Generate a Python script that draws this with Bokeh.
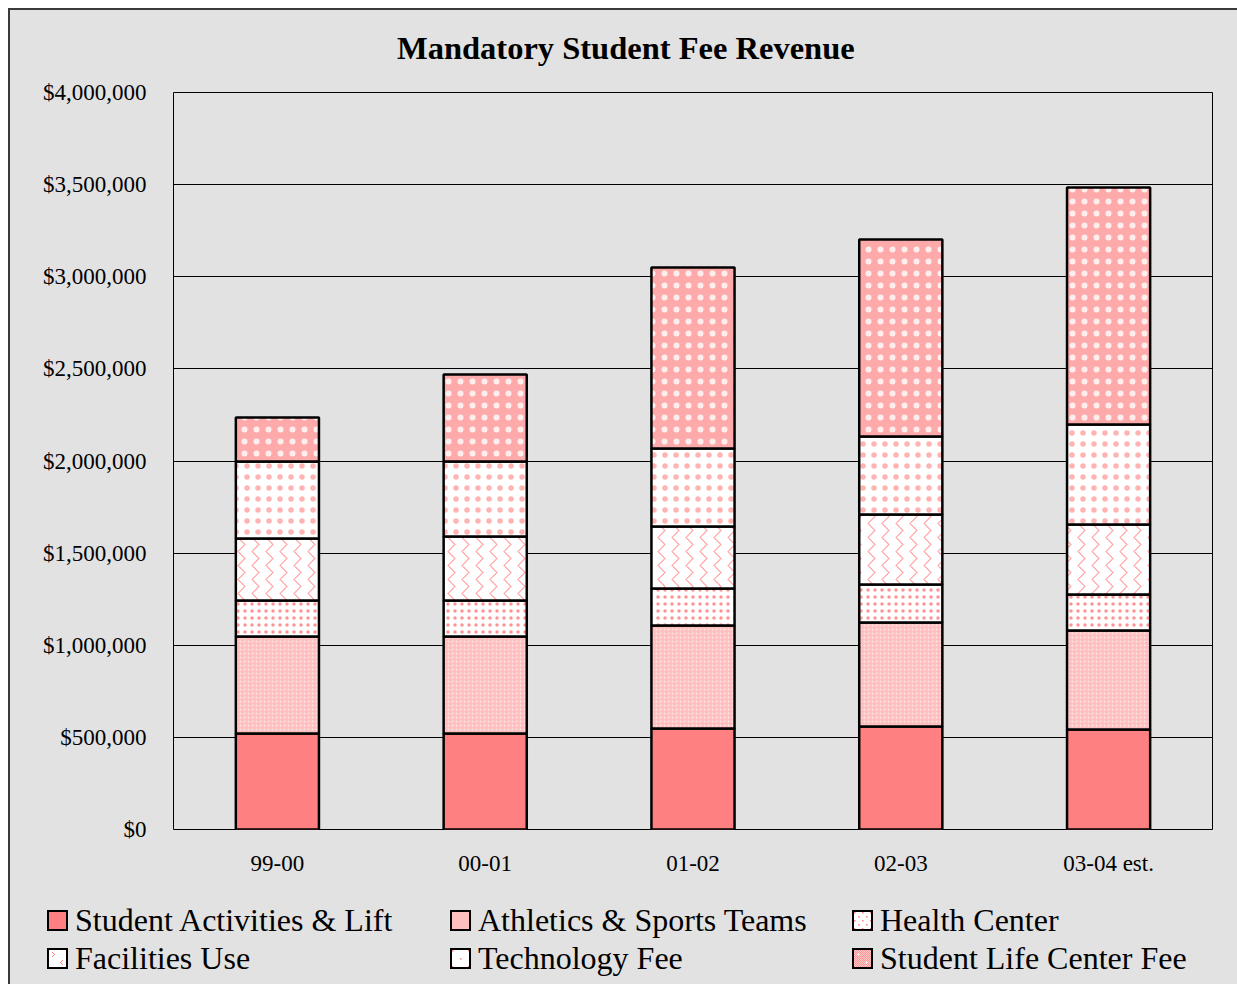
import base64, struct, zlib, html
from bokeh.plotting import figure
from bokeh.layouts import column
from bokeh.models import Range1d, SingleIntervalTicker, NumeralTickFormatter, Div
from bokeh.embed import file_html
from bokeh.resources import INLINE

chart_title = "Mandatory Student Fee Revenue"
years = ["99-00", "00-01", "01-02", "02-03", "03-04 est."]
series_names = ["Student Activities & Lift", "Athletics & Sports Teams", "Health Center",
                "Facilities Use", "Technology Fee", "Student Life Center Fee"]
student_activities = [521000, 521000, 548000, 559000, 543000]
athletics = [526000, 526000, 559000, 564000, 537000]
health_center = [196000, 196000, 201000, 207000, 195000]
facilities_use = [336000, 347000, 337000, 380000, 380000]
technology_fee = [418000, 407000, 423000, 423000, 543000]
student_life_center = [239000, 473000, 982000, 1069000, 1286000]

keys = ["sa", "ath", "hc", "fu", "tf", "slc"]
data = dict(years=years, sa=student_activities, ath=athletics, hc=health_center,
            fu=facilities_use, tf=technology_fee, slc=student_life_center)

# ---- bar fill styles (Bokeh built-in hatches) ----
fills = ["#ff8080", "#ffbfbf", "#ffffff", "#ffffff", "#ffffff", "#ffaaaa"]
hatch_patterns = [None, "dot", "dot", "vertical_wave", "dot", "dot"]
hatch_colors = ["black", "#ffe6e6", "#ff8080", "#ff9999", "#ff8080", "#ffffff"]
hatch_scales = [12, 4, 7, 14, 11, 12]
hatch_weights = [1, 1, 1, 1.1, 1, 1]
hatch_alphas = [1, 1, 0.85, 0.9, 0.6, 0.8]

# ---- small tiles for the HTML legend swatches ----
P = (255, 128, 128); W = (255, 255, 255); LP = (255, 200, 200)

def tile(n, base):
    return [[base(x, y) for x in range(n)] for y in range(n)]

hc_t = tile(8, lambda x, y: W)
for ox, oy in [(0, 0), (4, 4)]:
    hc_t[oy][ox] = P; hc_t[oy][ox + 1] = LP; hc_t[oy + 1][ox] = LP; hc_t[oy + 1][ox + 1] = LP
fu_t = tile(16, lambda x, y: W)
for (dx, dy) in [(0, 0), (1, 1), (2, 2), (1, 3), (0, 4)]:
    fu_t[2 + dy][3 + dx] = P
for (dx, dy) in [(2, 0), (1, 1), (0, 2), (1, 3), (2, 4)]:
    fu_t[10 + dy][11 + dx] = P
tf_t = tile(16, lambda x, y: W)
for ox, oy in [(0, 0), (8, 8)]:
    tf_t[oy][ox] = P; tf_t[oy][ox + 1] = LP; tf_t[oy + 1][ox] = LP; tf_t[oy + 1][ox + 1] = LP
slc_t = tile(16, lambda x, y: (255, 150, 150) if (x + y) % 2 == 0 else (255, 200, 200))
for cx, cy in [(4, 4), (12, 12)]:
    slc_t[cy][cx] = W
    for dx, dy in [(1, 0), (-1, 0), (0, 1), (0, -1)]:
        slc_t[cy + dy][cx + dx] = (255, 238, 238)
tiles = {"hc": hc_t, "fu": fu_t, "tf": tf_t, "slc": slc_t}


def png_url(grid):
    h = len(grid); w = len(grid[0])
    raw = b"".join(b"\x00" + bytes([c for px in row for c in px]) for row in grid)
    def chunk(tag, d):
        return struct.pack(">I", len(d)) + tag + d + struct.pack(">I", zlib.crc32(tag + d) & 0xffffffff)
    png = (b"\x89PNG\r\n\x1a\n" + chunk(b"IHDR", struct.pack(">IIBBBBB", w, h, 8, 2, 0, 0, 0))
           + chunk(b"IDAT", zlib.compress(raw)) + chunk(b"IEND", b""))
    return "data:image/png;base64," + base64.b64encode(png).decode()


SERIF = "Liberation Serif"
BG = "#e2e2e2"

# ---- title strip (HTML) ----
title_html = ('<div style="position:relative;width:1227px;height:65px;background:%s;">'
              '<div style="position:absolute;left:387px;top:18px;height:40px;line-height:40px;'
              "white-space:nowrap;font-family:'Liberation Serif';font-size:32.5px;"
              'font-weight:bold;color:#000;">%s</div></div>' % (BG, html.escape(chart_title)))
title_div = Div(text=title_html, width=1227, height=65,
                styles={"background-color": BG, "margin": "0", "padding": "0"})

# ---- main chart ----
p = figure(x_range=years, y_range=Range1d(0, 4000000),
           frame_width=1039, frame_height=737,
           min_border_left=163, min_border_right=25, min_border_top=17, min_border_bottom=61,
           output_backend="svg", toolbar_location=None)
p.background_fill_color = BG
p.border_fill_color = BG
p.outline_line_color = "black"
p.outline_line_width = 1
p.x_range.range_padding = 0

p.xgrid.grid_line_color = None
p.ygrid.grid_line_color = "black"
p.ygrid.grid_line_width = 1

p.yaxis.ticker = SingleIntervalTicker(interval=500000)
p.yaxis.formatter = NumeralTickFormatter(format="$0,0")
for ax in (p.xaxis[0], p.yaxis[0]):
    ax.axis_line_color = None
    ax.major_tick_line_color = None
    ax.minor_tick_line_color = None
    ax.major_tick_out = 0
    ax.major_tick_in = 0
    ax.major_label_text_font = SERIF
    ax.major_label_text_font_size = "23px"
    ax.major_label_text_color = "black"
p.yaxis.major_label_standoff = 23
p.xaxis.major_label_standoff = 21

p.vbar_stack(keys, x="years", width=0.4, source=data,
             line_color="black", line_width=2.5,
             fill_color=fills, hatch_pattern=hatch_patterns, hatch_color=hatch_colors,
             hatch_scale=hatch_scales, hatch_weight=hatch_weights, hatch_alpha=hatch_alphas)

# ---- legend strip (HTML) ----
col_left = [37, 440, 842]
row_mid = [30, 68]
parts = []
for i, (name, key, fc) in enumerate(zip(series_names, keys, fills)):
    gx = col_left[i % 3]
    cy = row_mid[i // 3]
    bg_img = "" if key not in tiles else " url(%s) repeat" % png_url(tiles[key])
    parts.append(
        '<div style="position:absolute;left:%dpx;top:%dpx;width:21px;height:21px;'
        'box-sizing:border-box;border:2.5px solid #000;background:%s%s;"></div>'
        % (gx, cy - 10, fc, bg_img))
    parts.append(
        '<div style="position:absolute;left:%dpx;top:%dpx;height:38px;line-height:38px;'
        'white-space:nowrap;">%s</div>' % (gx + 28, cy - 19, html.escape(name)))
legend_html = ('<div style="position:relative;width:1227px;height:94px;background:%s;'
               "font-family:'Liberation Serif';font-size:32px;color:#000;\">%s</div>"
               % (BG, "".join(parts)))
legend = Div(text=legend_html, width=1227, height=94,
             styles={"background-color": BG, "margin": "0", "padding": "0"})

layout = column(title_div, p, legend, spacing=0,
                styles={"margin-left": "8px", "margin-top": "8px", "background-color": BG,
                        "border-left": "2px solid #3a3a3a", "border-top": "2px solid #3a3a3a"})

open("out.html", "w").write(file_html(layout, INLINE))
